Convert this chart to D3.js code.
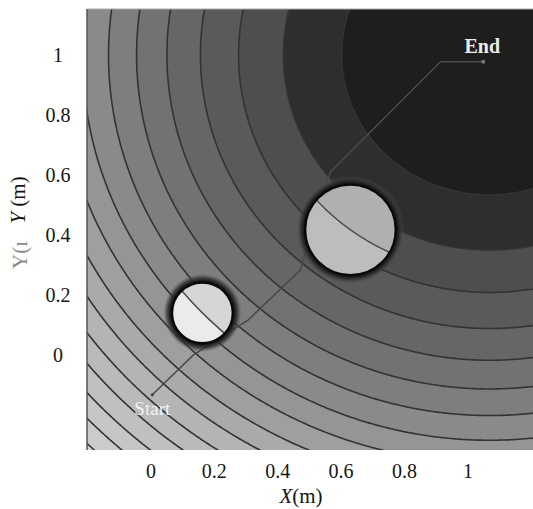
<!DOCTYPE html>
<meta charset="utf-8">
<style>
  body { margin: 0; background: #fff; }
  text { font-family: "Liberation Serif", "Times New Roman", serif; }
  .tick text { font-size: 20px; fill: #151515; }
</style>
<svg width="533" height="509"></svg>
<script src="https://d3js.org/d3.v7.min.js"></script>
<script>
  // squared distance to the goal where each contour ring sits
  var levels = [0.218, 0.423, 0.627, 0.832, 1.036, 1.24, 1.445, 1.65, 1.85,
    2.06, 2.26, 2.47, 2.67, 2.88, 3.08, 3.29, 3.49];
  var goalX = 1.07, goalY = 1.0;

  var obsX = [0.164, 0.631],
    obsY = [0.14, 0.417],
    obsR = [0.095, 0.142];

  var pathX = [0.006, 0.136, 0.309, 0.473, 0.568, 0.915, 1.05],
    pathY = [-0.133, 0.0, 0.117, 0.283, 0.61, 0.977, 0.977];

  var xTicks = [0, 0.2, 0.4, 0.6, 0.8, 1],
    yTicks = [0, 0.2, 0.4, 0.6, 0.8, 1];

  var svg = d3.select("svg");
  var x = d3.scaleLinear().domain([-0.2, 1.21]).range([87, 534]);
  var y = d3.scaleLinear().domain([-0.317, 1.153]).range([450, 9]);

  var gray = d3.scaleLinear().domain([0, 1, 2, 7, 11, 17]).range([30, 46, 78, 138, 180, 215]);
  function g(v) { v = Math.round(v); return d3.rgb(v, v, v) + ""; }

  var defs = svg.append("defs");
  defs.append("clipPath").attr("id", "plot").append("rect")
    .attr("x", x.range()[0]).attr("y", y.range()[1])
    .attr("width", x.range()[1] - x.range()[0])
    .attr("height", y.range()[0] - y.range()[1]);

  var plot = svg.append("g").attr("clip-path", "url(#plot)");

  // potential field on a grid a bit larger than the plot
  var n = 300, gx0 = -0.26, gx1 = 1.27, gy0 = -0.38, gy1 = 1.21;
  var values = new Array(n * n);
  for (var j = 0; j < n; j++) {
    for (var i = 0; i < n; i++) {
      var xv = gx0 + (i + 0.5) / n * (gx1 - gx0),
        yv = gy1 - (j + 0.5) / n * (gy1 - gy0);
      values[i + j * n] = (xv - goalX) * (xv - goalX) + (yv - goalY) * (yv - goalY);
    }
  }
  var contours = d3.contours().size([n, n]).thresholds(levels)(values);
  var proj = d3.geoTransform({
    point: function(px, py) {
      this.stream.point(x(gx0 + px / n * (gx1 - gx0)), y(gy1 - py / n * (gy1 - gy0)));
    }
  });
  var geo = d3.geoPath(proj);

  plot.append("rect")
    .attr("x", 80).attr("y", 0).attr("width", 460).attr("height", 460)
    .attr("fill", g(gray(0)));

  plot.selectAll("path.band")
    .data(contours)
    .enter().append("path")
    .attr("class", "band")
    .attr("d", geo)
    .attr("fill", function(d, k) { return g(gray(k + 1)); })
    .attr("stroke", "#333")
    .attr("stroke-width", 1.6);

  // path from start to goal
  var line = d3.line()
    .x(function(d) { return x(d[0]); })
    .y(function(d) { return y(d[1]); });
  plot.append("path")
    .datum(d3.zip(pathX, pathY))
    .attr("d", line)
    .attr("fill", "none")
    .attr("stroke", "#4a4a4a")
    .attr("stroke-width", 1.5);

  // obstacles
  var innerLo = ["#ebebeb", "#bdbdbd"],
    innerHi = ["#d6d6d6", "#b0b0b0"];
  obsX.forEach(function(ox, k) {
    var cx = x(ox), cy = y(obsY[k]), r = x(ox + obsR[k]) - cx, ro = r + 9;
    var grad = defs.append("radialGradient").attr("id", "ring" + k);
    grad.append("stop").attr("offset", r / ro).attr("stop-color", "#000");
    grad.append("stop").attr("offset", (r + 2) / ro).attr("stop-color", "#1a1a1a");
    grad.append("stop").attr("offset", (r + 5) / ro).attr("stop-color", "#333").attr("stop-opacity", 0.8);
    grad.append("stop").attr("offset", 1).attr("stop-color", "#555").attr("stop-opacity", 0);
    plot.append("circle").attr("cx", cx).attr("cy", cy).attr("r", ro).attr("fill", "url(#ring" + k + ")");

    defs.append("clipPath").attr("id", "disc" + k)
      .append("circle").attr("cx", cx).attr("cy", cy).attr("r", r);
    var inner = plot.append("g").attr("clip-path", "url(#disc" + k + ")");
    inner.append("circle").attr("cx", cx).attr("cy", cy).attr("r", r).attr("fill", innerLo[k]);
    var dd = Math.sqrt((ox - goalX) * (ox - goalX) + (obsY[k] - goalY) * (obsY[k] - goalY));
    inner.append("ellipse")
      .attr("cx", x(goalX)).attr("cy", y(goalY))
      .attr("rx", x(goalX + dd) - x(goalX))
      .attr("ry", y(goalY) - y(goalY + dd))
      .attr("fill", innerHi[k])
      .attr("stroke", "#4a4a4a")
      .attr("stroke-width", 1.5);
    plot.append("circle").attr("cx", cx).attr("cy", cy).attr("r", r)
      .attr("fill", "none").attr("stroke", "#080808").attr("stroke-width", 1.8);
  });

  // markers and labels
  var last = pathX.length - 1;
  plot.append("circle").attr("cx", x(pathX[last])).attr("cy", y(pathY[last]))
    .attr("r", 2).attr("fill", "#777");
  plot.append("circle").attr("cx", x(pathX[0])).attr("cy", y(pathY[0]))
    .attr("r", 1.6).attr("fill", "#444");
  plot.append("text")
    .attr("x", x(pathX[last]) - 1).attr("y", y(pathY[last]) - 9)
    .attr("text-anchor", "middle")
    .attr("font-size", "20px").attr("font-weight", "bold")
    .attr("fill", "#ececec")
    .text("End");
  plot.append("text")
    .attr("x", x(pathX[0])).attr("y", y(pathY[0]) + 20)
    .attr("text-anchor", "middle")
    .attr("font-size", "19px")
    .attr("fill", "#f2f2f2")
    .text("Start");

  // frame
  svg.append("line")
    .attr("x1", x.range()[0]).attr("x2", 533)
    .attr("y1", y.range()[1]).attr("y2", y.range()[1])
    .attr("stroke", "#aaa").attr("stroke-width", 1);
  svg.append("line")
    .attr("x1", x.range()[0]).attr("x2", x.range()[0])
    .attr("y1", y.range()[1]).attr("y2", y.range()[0])
    .attr("stroke", "#555").attr("stroke-width", 1.5);

  // axes
  var serif = "'Liberation Serif', 'Times New Roman', serif";
  var xAxis = svg.append("g")
    .attr("transform", "translate(0," + y.range()[0] + ")")
    .call(d3.axisBottom(x).tickValues(xTicks).tickSize(0).tickPadding(14).tickFormat(d3.format("~g")));
  xAxis.select(".domain").remove();

  var yAxis = svg.append("g")
    .attr("transform", "translate(" + x.range()[0] + ",0)")
    .call(d3.axisLeft(y).tickValues(yTicks).tickSize(0).tickFormat(d3.format("~g")));
  yAxis.select(".domain").remove();
  yAxis.selectAll(".tick text").attr("x", -29).attr("text-anchor", "middle");
  svg.selectAll(".tick text").attr("font-family", serif).style("font-family", serif);

  var xl = svg.append("text")
    .attr("x", 301).attr("y", 503)
    .attr("text-anchor", "middle")
    .attr("font-size", "21px").attr("fill", "#151515");
  xl.append("tspan").attr("font-style", "italic").text("X");
  xl.append("tspan").text("(m)");

  var yl = svg.append("text")
    .attr("transform", "translate(18,200) rotate(-90)")
    .attr("dy", "0.35em")
    .attr("text-anchor", "middle")
    .attr("font-size", "21px").attr("fill", "#151515");
  yl.append("tspan").attr("font-style", "italic").text("Y");
  yl.append("tspan").text(" (m)");

  svg.append("text")
    .attr("transform", "translate(20,255) rotate(-90)")
    .attr("dy", "0.35em")
    .attr("text-anchor", "middle")
    .attr("font-size", "21px").attr("fill", "#8a8a8a")
    .text("Y(ı");
</script>
